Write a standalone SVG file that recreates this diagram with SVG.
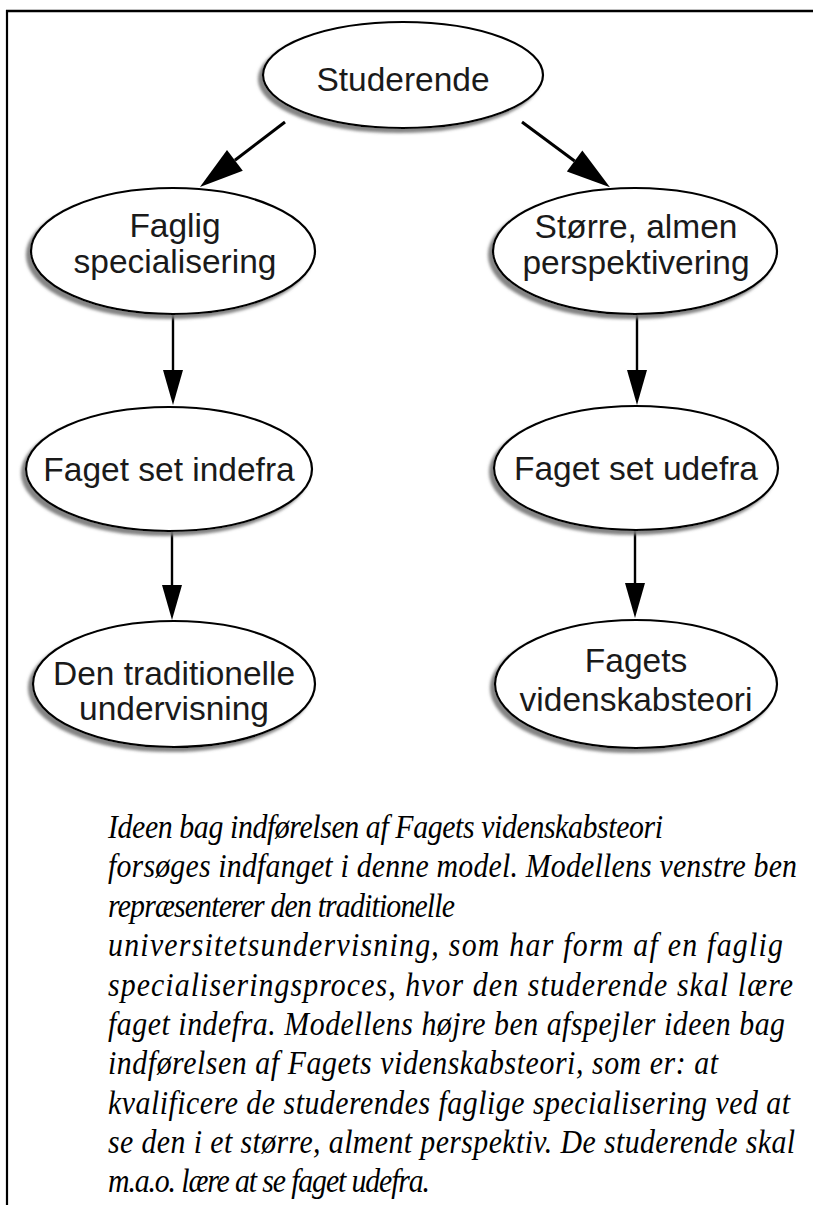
<svg xmlns="http://www.w3.org/2000/svg" width="813" height="1205" viewBox="0 0 813 1205">
<defs>
<style>
.node ellipse{fill:#fff;stroke:#000;stroke-width:2.2;filter:url(#sh)}
.lbl{font-family:"Liberation Sans",Arial,sans-serif;font-size:33.5px;fill:#1a1a1a;text-anchor:middle}
.con{stroke:#000;fill:none}
.para{font-family:"Liberation Serif","Times New Roman",serif;font-style:italic;font-size:33.5px;fill:#000}
</style>
<filter id="sh" x="-10%" y="-10%" width="120%" height="130%">
<feDropShadow dx="-4" dy="4" stdDeviation="1.5" flood-color="#777" flood-opacity="0.9"/>
</filter>
<marker id="ahv" markerUnits="userSpaceOnUse" markerWidth="36" markerHeight="22" refX="0" refY="10" orient="auto" overflow="visible">
<path d="M0,0 L35,10 L0,20 z" fill="#000"/>
</marker>
<marker id="ahd" markerUnits="userSpaceOnUse" markerWidth="46" markerHeight="28" refX="0" refY="13" orient="auto" overflow="visible">
<path d="M0,0 L44,13 L0,26 z" fill="#000"/>
</marker>
</defs>
<rect width="813" height="1205" fill="#fff"/>
<g id="frame">
<line x1="6" y1="11" x2="813" y2="11" stroke="#000" stroke-width="2.5"/>
<line x1="7" y1="10" x2="7" y2="1205" stroke="#000" stroke-width="2.2"/>
</g>
<g id="connectors">
<path class="con" stroke-width="3" d="M285,122 L234.9,160.3" marker-end="url(#ahd)"/>
<path class="con" stroke-width="3" d="M522,122 L574.6,161" marker-end="url(#ahd)"/>
<path class="con" stroke-width="2.4" d="M173,315 L173,370" marker-end="url(#ahv)"/>
<path class="con" stroke-width="2.4" d="M637,315 L637,370" marker-end="url(#ahv)"/>
<path class="con" stroke-width="2.4" d="M172,531 L172,585" marker-end="url(#ahv)"/>
<path class="con" stroke-width="2.4" d="M635,530 L635,583" marker-end="url(#ahv)"/>
</g>
<g id="n-studerende" class="node">
<ellipse cx="403" cy="75" rx="140" ry="53"/>
<text class="lbl" x="403" y="91">Studerende</text>
</g>
<g id="n-faglig" class="node">
<ellipse cx="173" cy="251" rx="142" ry="63"/>
<text class="lbl" x="175" y="237">Faglig</text>
<text class="lbl" x="175" y="273">specialisering</text>
</g>
<g id="n-stoerre" class="node">
<ellipse cx="635" cy="251" rx="142" ry="63"/>
<text class="lbl" x="636" y="238">Større, almen</text>
<text class="lbl" x="636" y="274">perspektivering</text>
</g>
<g id="n-indefra" class="node">
<ellipse cx="169" cy="469" rx="143" ry="62"/>
<text class="lbl" x="169" y="481">Faget set indefra</text>
</g>
<g id="n-udefra" class="node">
<ellipse cx="636" cy="468" rx="142" ry="62"/>
<text class="lbl" x="636" y="480">Faget set udefra</text>
</g>
<g id="n-traditionelle" class="node">
<ellipse cx="174" cy="684" rx="141" ry="63"/>
<text class="lbl" x="174" y="685">Den traditionelle</text>
<text class="lbl" x="174" y="720">undervisning</text>
</g>
<g id="n-videnskabsteori" class="node">
<ellipse cx="636" cy="684" rx="141" ry="64"/>
<text class="lbl" x="636" y="672">Fagets</text>
<text class="lbl" x="636" y="711">videnskabsteori</text>
</g>
<g id="caption" class="para" transform="scale(0.89,1)">
<text x="121.35" y="838" textLength="623.6" lengthAdjust="spacing">Ideen bag indførelsen af Fagets videnskabsteori</text>
<text x="121.35" y="877" textLength="774.2" lengthAdjust="spacing">forsøges indfanget i denne model. Modellens venstre ben</text>
<text x="121.35" y="917" textLength="389.9" lengthAdjust="spacing">repræsenterer den traditionelle</text>
<text x="121.35" y="956" textLength="758.4" lengthAdjust="spacing">universitetsundervisning, som har form af en faglig</text>
<text x="121.35" y="996" textLength="769.7" lengthAdjust="spacing">specialiseringsproces, hvor den studerende skal lære</text>
<text x="121.35" y="1035" textLength="760.7" lengthAdjust="spacing">faget indefra. Modellens højre ben afspejler ideen bag</text>
<text x="121.35" y="1074" textLength="685.4" lengthAdjust="spacing">indførelsen af Fagets videnskabsteori, som er: at</text>
<text x="121.35" y="1114" textLength="766.3" lengthAdjust="spacing">kvalificere de studerendes faglige specialisering ved at</text>
<text x="121.35" y="1153" textLength="771.9" lengthAdjust="spacing">se den i et større, alment perspektiv. De studerende skal</text>
<text x="121.35" y="1192" textLength="361.8" lengthAdjust="spacing">m.a.o. lære at se faget udefra.</text>
</g>
</svg>
